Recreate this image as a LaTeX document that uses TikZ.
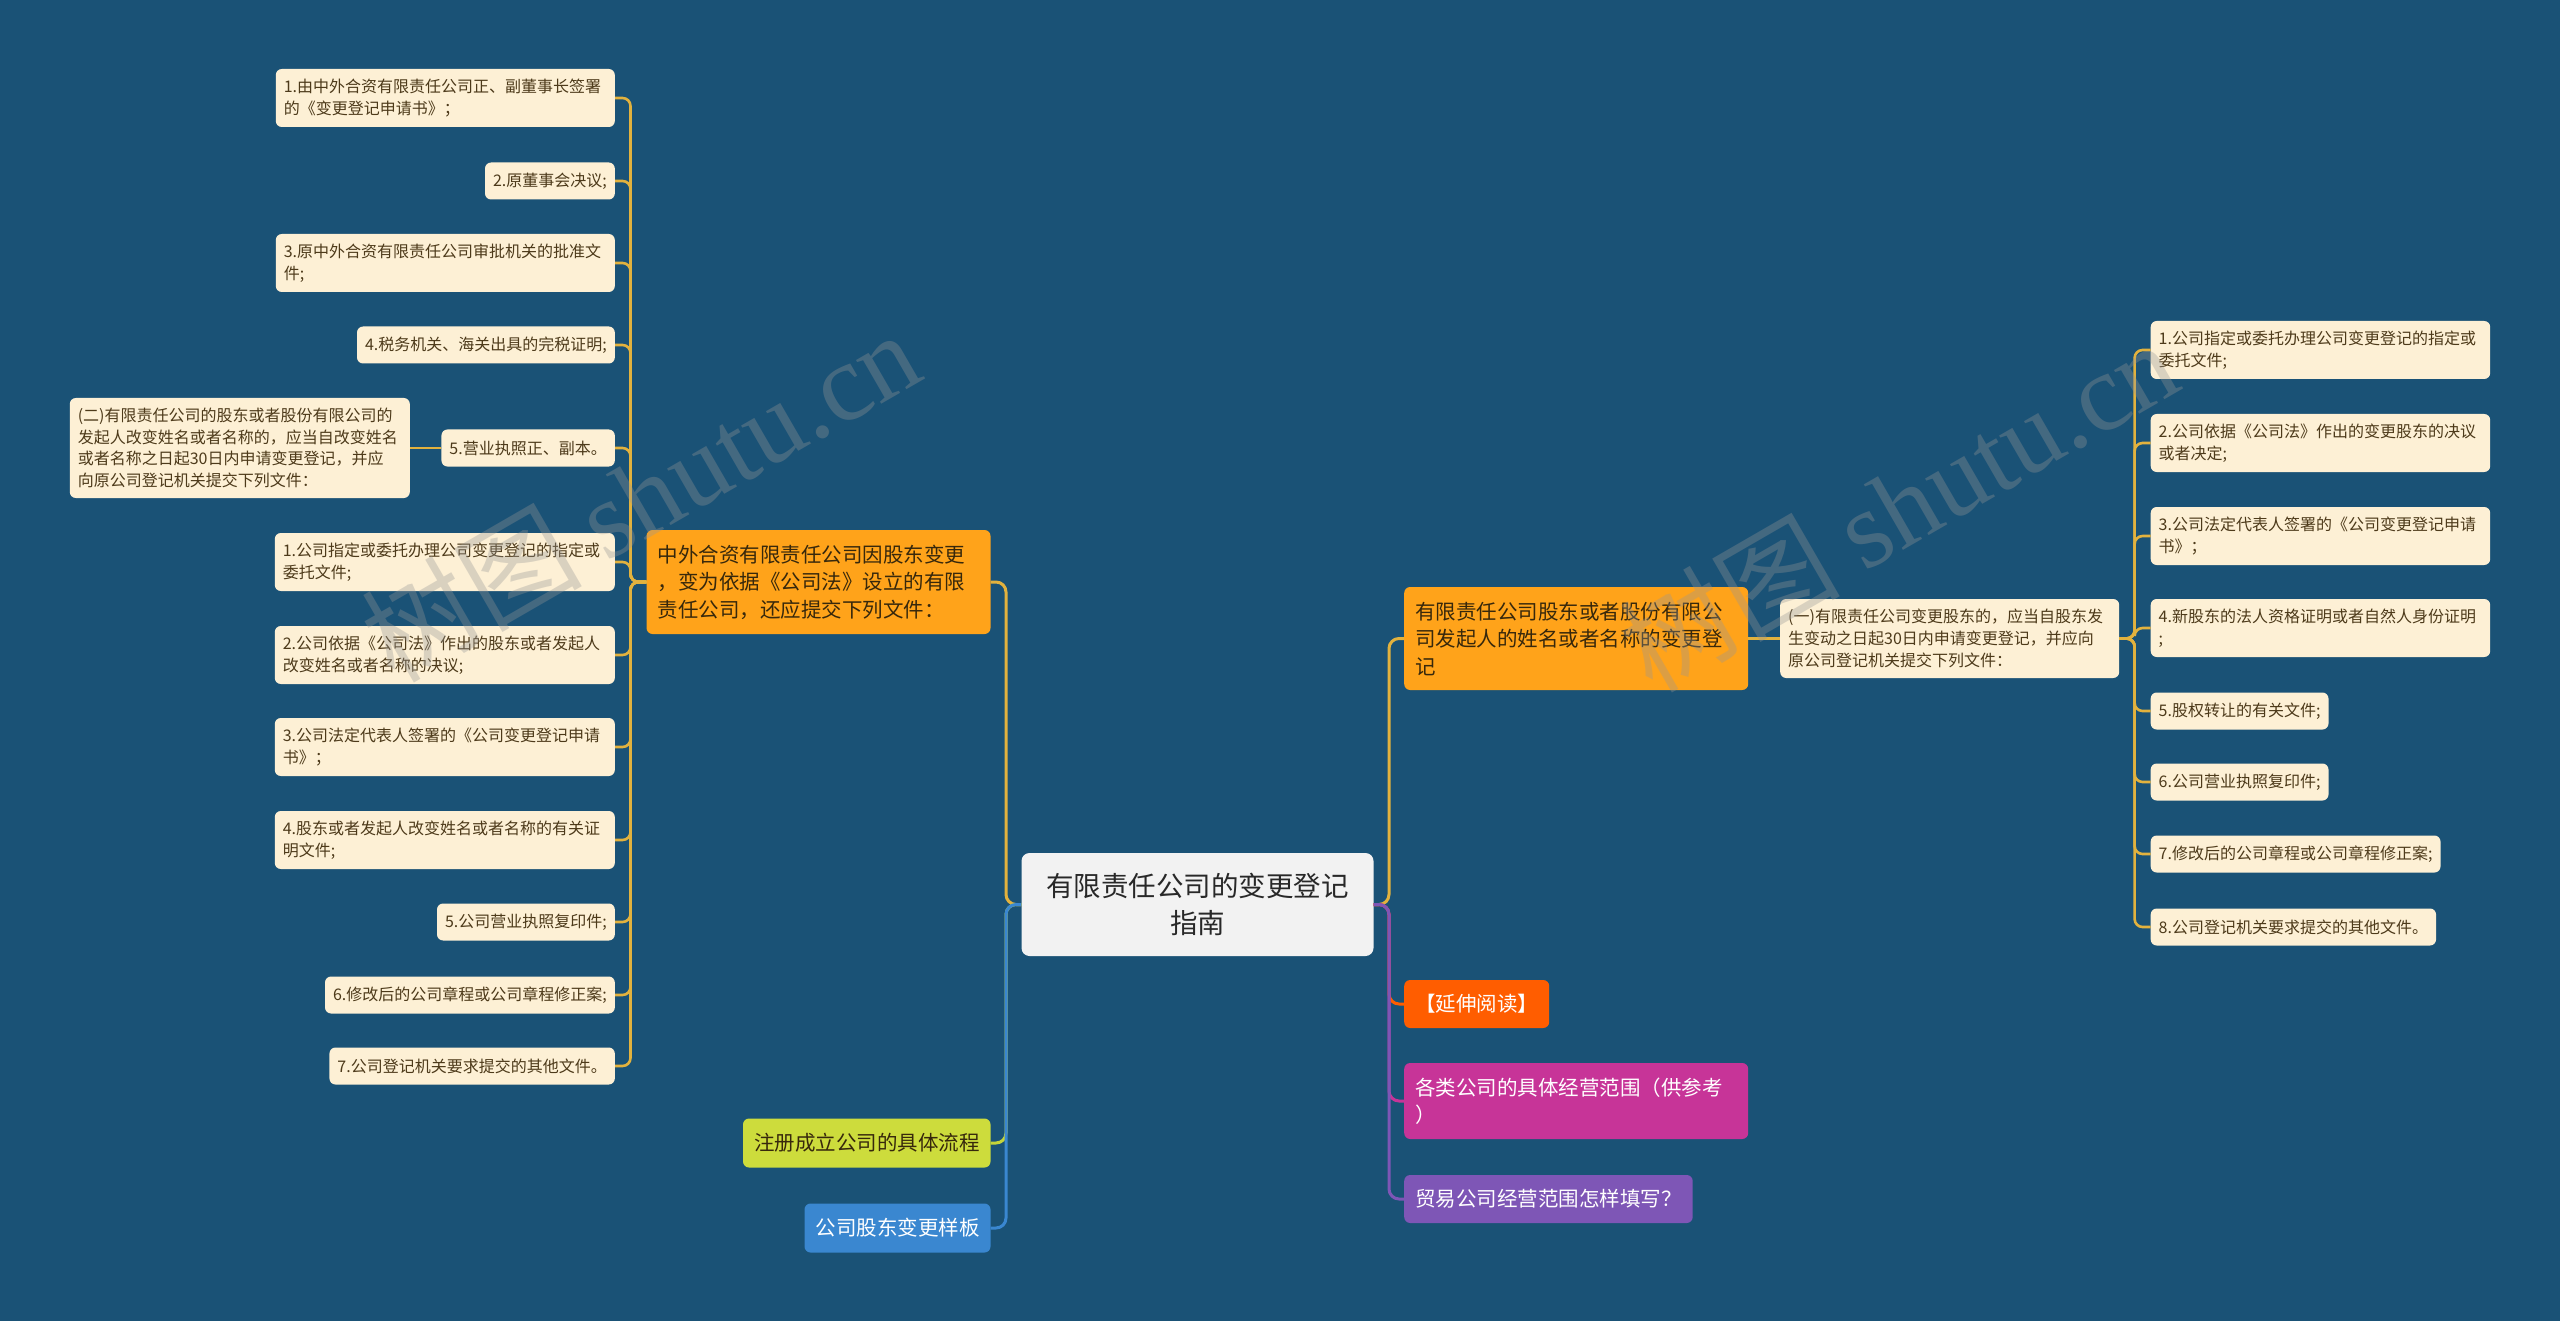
\documentclass[tikz,border=0pt]{standalone}
\usepackage{fontspec}
\setmainfont{Noto Sans CJK SC}
\newfontfamily\wmserif{Liberation Serif}
\usetikzlibrary{calc}

\definecolor{bg}{RGB}{26,82,118}
\definecolor{leaffill}{RGB}{253,240,213}
\definecolor{leaftext}{RGB}{77,58,26}
\definecolor{gold}{RGB}{226,178,62}
\definecolor{orangeA}{RGB}{255,163,26}
\definecolor{darktext}{RGB}{55,40,12}
\definecolor{ctrfill}{RGB}{242,242,242}
\definecolor{ctrtext}{RGB}{40,40,40}
\definecolor{redor}{RGB}{255,93,0}
\definecolor{mgnt}{RGB}{199,52,152}
\definecolor{purp}{RGB}{126,86,182}
\definecolor{grn}{RGB}{205,220,60}
\definecolor{grnline}{RGB}{196,212,58}
\definecolor{blu}{RGB}{58,135,208}
\definecolor{wmgray}{RGB}{150,150,150}

\begin{document}
\begin{tikzpicture}[x=1pt,y=-1pt,
  leaf/.style={rectangle, rounded corners=6pt, fill=leaffill, text=leaftext,
    font=\fontsize{16}{21.7}\selectfont, align=left, inner xsep=8pt, inner ysep=0pt},
  lvl/.style={rectangle, rounded corners=6pt,
    font=\fontsize{20.5}{27.5}\selectfont, align=left, inner xsep=11pt, inner ysep=0pt},
  ctrbox/.style={rectangle, rounded corners=8pt, fill=ctrfill, text=ctrtext,
    font=\fontsize{27.5}{36.5}\selectfont, align=center, inner xsep=10pt, inner ysep=0pt},
  conn/.style={line width=3pt, rounded corners=10pt},
  leafconn/.style={line width=2.6pt, draw=gold, rounded corners=8pt},
  wm/.style={text=wmgray, text opacity=0.34, font=\fontsize{110}{110}\selectfont, inner sep=0pt}
]
\useasboundingbox (0,0) rectangle (2560,1321);
\fill[bg] (0,0) rectangle (2560,1321);

% trunk coordinates
\coordinate (tL) at (630.5,0);
\coordinate (tC) at (1006,0);
\coordinate (tR) at (1389,0);
\coordinate (tR2) at (2134.6,0);

% center
\node[ctrbox, text width=332pt, minimum height=103pt] (ctr) at (1197.5,904.5)
  {有限责任公司的变更登记\\指南};

% level 1 left
\node[lvl, fill=orangeA, text=darktext, text width=322pt, minimum height=104pt, anchor=east] (A) at (990.7,582)
  {中外合资有限责任公司因股东变更\\，变为依据《公司法》设立的有限\\责任公司，还应提交下列文件：};
\node[lvl, fill=grn, text=darktext, minimum height=49pt, anchor=east] (G) at (990.7,1143)
  {注册成立公司的具体流程};
\node[lvl, fill=blu, text=white, minimum height=49pt, anchor=east] (Bl) at (990.7,1228)
  {公司股东变更样板};

% level 1 right
\node[lvl, fill=orangeA, text=darktext, text width=322pt, minimum height=103pt, anchor=west] (B) at (1404,638.5)
  {有限责任公司股东或者股份有限公\\司发起人的姓名或者名称的变更登\\记};
\node[lvl, fill=redor, text=white, minimum height=48pt, anchor=west] (Ext) at (1404,1004)
  {【延伸阅读】};
\node[lvl, fill=mgnt, text=white, text width=322pt, minimum height=76pt, anchor=west] (Mg) at (1404,1101)
  {各类公司的具体经营范围（供参考\\）};
\node[lvl, fill=purp, text=white, minimum height=48pt, anchor=west] (Pu) at (1404,1199)
  {贸易公司经营范围怎样填写？};

% left leaves
\node[leaf, text width=323pt, minimum height=58pt, anchor=east] (L1) at (615,98)
  {1.由中外合资有限责任公司正、副董事长签署\\的《变更登记申请书》；};
\node[leaf, minimum height=37pt, anchor=east] (L2) at (615,181)
  {2.原董事会决议;};
\node[leaf, text width=323pt, minimum height=58pt, anchor=east] (L3) at (615,263)
  {3.原中外合资有限责任公司审批机关的批准文\\件;};
\node[leaf, minimum height=37pt, anchor=east] (L4) at (615,345)
  {4.税务机关、海关出具的完税证明;};
\node[leaf, minimum height=37pt, anchor=east] (L5) at (615,448)
  {5.营业执照正、副本。};
\node[leaf, text width=324pt, minimum height=100pt, anchor=east] (E2) at (410,448)
  {(二)有限责任公司的股东或者股份有限公司的\\发起人改变姓名或者名称的，应当自改变姓名\\或者名称之日起30日内申请变更登记，并应\\向原公司登记机关提交下列文件：};
\node[leaf, text width=324pt, minimum height=58pt, anchor=east] (L6) at (615,562)
  {1.公司指定或委托办理公司变更登记的指定或\\委托文件;};
\node[leaf, text width=324pt, minimum height=58pt, anchor=east] (L7) at (615,655)
  {2.公司依据《公司法》作出的股东或者发起人\\改变姓名或者名称的决议;};
\node[leaf, text width=324pt, minimum height=58pt, anchor=east] (L8) at (615,747)
  {3.公司法定代表人签署的《公司变更登记申请\\书》；};
\node[leaf, text width=324pt, minimum height=58pt, anchor=east] (L9) at (615,840)
  {4.股东或者发起人改变姓名或者名称的有关证\\明文件;};
\node[leaf, minimum height=37pt, anchor=east] (L10) at (615,922)
  {5.公司营业执照复印件;};
\node[leaf, minimum height=37pt, anchor=east] (L11) at (615,995)
  {6.修改后的公司章程或公司章程修正案;};
\node[leaf, minimum height=37pt, anchor=east] (L12) at (615,1066)
  {7.公司登记机关要求提交的其他文件。};

% right side
\node[leaf, text width=323pt, minimum height=79pt, anchor=west] (C) at (1780,638.5)
  {(一)有限责任公司变更股东的，应当自股东发\\生变动之日起30日内申请变更登记，并应向\\原公司登记机关提交下列文件：};
\node[leaf, text width=323.5pt, minimum height=58pt, anchor=west] (R1) at (2150.5,350)
  {1.公司指定或委托办理公司变更登记的指定或\\委托文件;};
\node[leaf, text width=323.5pt, minimum height=58pt, anchor=west] (R2) at (2150.5,443)
  {2.公司依据《公司法》作出的变更股东的决议\\或者决定;};
\node[leaf, text width=323.5pt, minimum height=58pt, anchor=west] (R3) at (2150.5,536)
  {3.公司法定代表人签署的《公司变更登记申请\\书》；};
\node[leaf, text width=323.5pt, minimum height=58pt, anchor=west] (R4) at (2150.5,628)
  {4.新股东的法人资格证明或者自然人身份证明\\;};
\node[leaf, minimum height=37pt, anchor=west] (R5) at (2150.5,711)
  {5.股权转让的有关文件;};
\node[leaf, minimum height=37pt, anchor=west] (R6) at (2150.5,782)
  {6.公司营业执照复印件;};
\node[leaf, minimum height=37pt, anchor=west] (R7) at (2150.5,854)
  {7.修改后的公司章程或公司章程修正案;};
\node[leaf, minimum height=37pt, anchor=west] (R8) at (2150.5,927)
  {8.公司登记机关要求提交的其他文件。};

% connectors: center to level 1 (left)
\draw[conn, gold] (ctr.west) -- (ctr.west -| tC) |- (A.east);
\draw[conn, grnline] (ctr.west) -- (ctr.west -| tC) |- (G.east);
\draw[conn, blu] (ctr.west) -- (ctr.west -| tC) |- (Bl.east);
% center to level 1 (right)
\draw[conn, gold] (ctr.east) -- (ctr.east -| tR) |- (B.west);
\draw[conn, redor] (ctr.east) -- (ctr.east -| tR) |- (Ext.west);
\draw[conn, mgnt] (ctr.east) -- (ctr.east -| tR) |- (Mg.west);
\draw[conn, purp] (ctr.east) -- (ctr.east -| tR) |- (Pu.west);

% A to left leaves
\foreach \n in {L1,L2,L3,L4,L5,L6,L7,L8,L9,L10,L11,L12}
  \draw[leafconn] (A.west) -- (A.west -| tL) |- (\n.east);
\draw[leafconn] (L5.west) -- (E2.east);

% B -> C -> right leaves
\draw[leafconn] (B.east) -- (C.west);
\foreach \n in {R1,R2,R3,R4,R5,R6,R7,R8}
  \draw[leafconn] (C.east) -- (C.east -| tR2) |- (\n.west);

% watermarks
\node[wm, rotate=30] (wm1) at (640,495) {树图 {\wmserif shutu.cn}};
\node[wm, rotate=30] (wm2) at (1898,505) {树图 {\wmserif shutu.cn}};
\end{tikzpicture}
\end{document}
